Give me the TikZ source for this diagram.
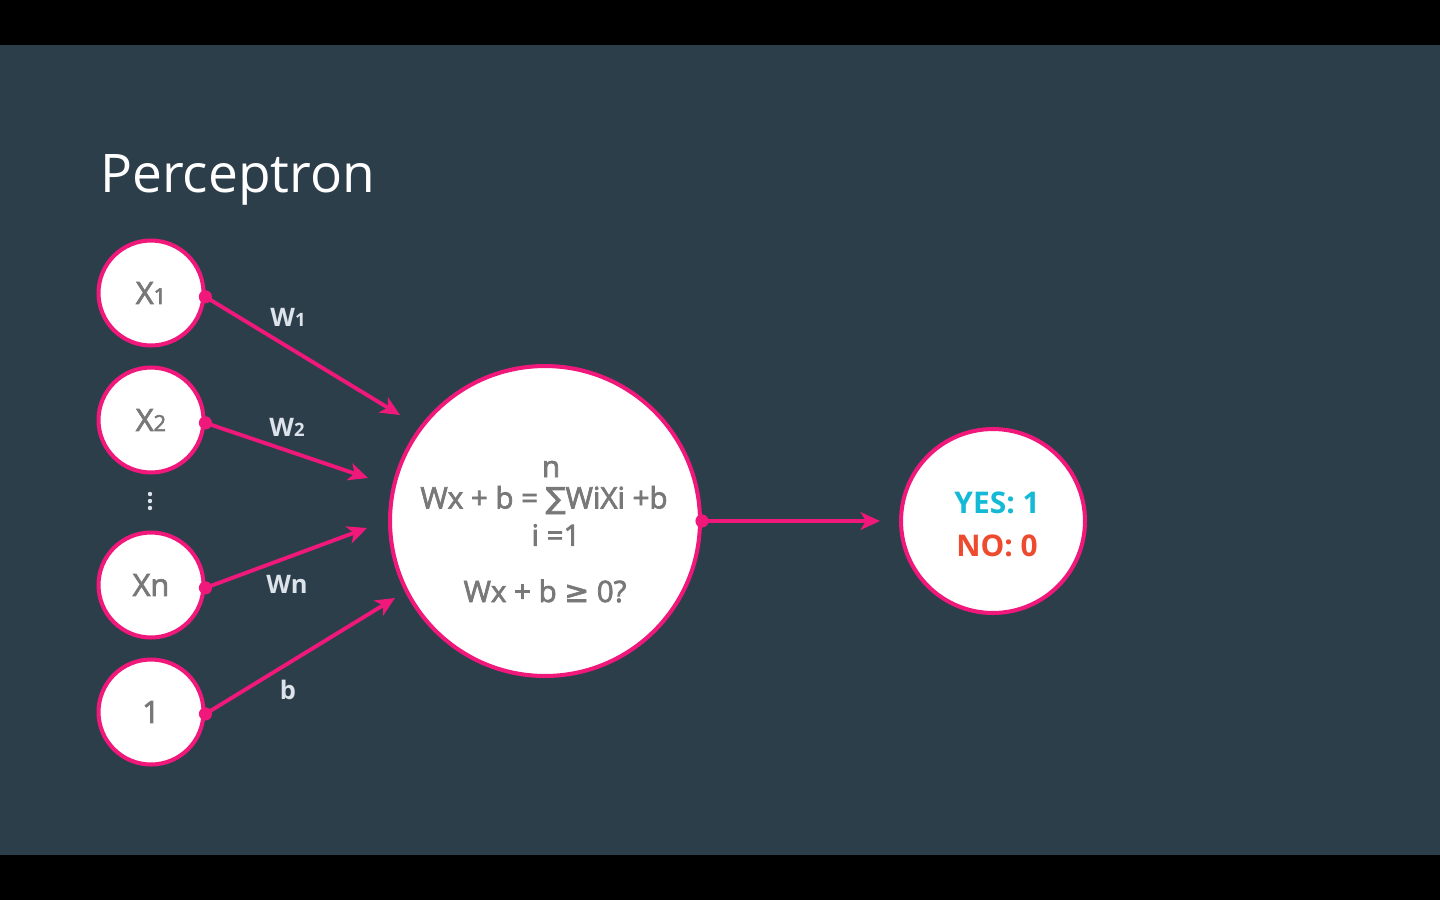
\documentclass[tikz,border=0pt]{standalone}
\usepackage{fontspec}
\setmainfont{Open Sans}
\newfontfamily\semib[FakeBold=2.5]{Open Sans}
\newfontfamily\symfont[FakeBold=2.5]{DejaVu Sans}
\usetikzlibrary{arrows.meta}
\definecolor{bg}{HTML}{2D3E4B}
\definecolor{pinkc}{HTML}{F0187A}
\definecolor{greyc}{HTML}{787878}
\definecolor{lblc}{HTML}{DDE3EA}
\definecolor{yesc}{HTML}{14B9D6}
\definecolor{noc}{HTML}{EE4A2E}
\newcommand\lowsub[1]{{\fontsize{12.5}{14}\selectfont #1}}
\newcommand\lowsubw[1]{{\fontsize{10.5}{12}\selectfont #1}}
\begin{document}
\begin{tikzpicture}[x=0.02cm,y=-0.02cm,
  neuron/.style={circle,draw=pinkc,fill=white,line width=2.3pt,inner sep=0pt},
  smallneuron/.style={neuron,minimum size=2.1cm,font=\semib\fontsize{17.5}{20}\selectfont,text=greyc},
  conn/.style={draw=pinkc,line width=2.2pt,-{Stealth[length=11pt,width=10pt,inset=3pt]}},
  dotc/.style={circle,fill=pinkc,inner sep=0pt,minimum size=7.5pt},
  wlabel/.style={font=\bfseries\fontsize{14.5}{17}\selectfont,text=lblc,inner sep=0pt},
  bigtext/.style={font=\semib\fontsize{16.8}{19}\selectfont,text=greyc,inner sep=0pt}]
\fill[black] (0,0) rectangle (1440,900);
\fill[bg] (0,45) rectangle (1440,855);
\useasboundingbox (0,0) rectangle (1440,900);

\node[anchor=base west,text=white,font=\fontsize{30.3}{36}\selectfont,inner sep=0pt] (title) at (100,192) {Perceptron};

\node[smallneuron] (x1) at (151,293) {X\lowsub{1}};
\node[smallneuron] (x2) at (151,420) {X\lowsub{2}};
\node[smallneuron] (xn) at (151,585) {Xn};
\node[smallneuron] (one) at (151,712) {1};

\fill[lblc] (150,494) circle (2.2) (150,501) circle (2.2) (150,508) circle (2.2);

\node[neuron,minimum size=6.2cm] (sum) at (545,521) {};
\node[bigtext] (formula) at (544,500) {Wx + b = {\symfont ∑}WiXi +b};
\node[bigtext] (upper) at (551,469) {n};
\node[bigtext] (lower) at (556,535) {i =1};
\node[bigtext] (test) at (545,591) {Wx + b {\symfont ≥} 0?};

\node[neuron,minimum size=3.68cm] (out) at (993,521) {};
\node[font=\bfseries\fontsize{17}{20}\selectfont,text=yesc,inner sep=0pt] (yes) at (997,503) {YES: 1};
\node[font=\bfseries\fontsize{17}{20}\selectfont,text=noc,inner sep=0pt] (no) at (997,546) {NO: 0};

\coordinate (t1) at (400,415);
\coordinate (t2) at (368,478);
\coordinate (tn) at (367,528);
\coordinate (tb) at (395,598);
\coordinate (tout) at (880,521);

\draw[conn] (x1.-4) -- (t1);
\draw[conn] (x2.-3) -- (t2);
\draw[conn] (xn.-3) -- (tn);
\draw[conn] (one.-2) -- (tb);
\draw[conn] (sum.east) -- (tout);

\node[dotc] (d1) at (x1.-4) {};
\node[dotc] (d2) at (x2.-3) {};
\node[dotc] (dn) at (xn.-3) {};
\node[dotc] (db) at (one.-2) {};
\node[dotc] (ds) at (sum.east) {};

\node[wlabel] (w1) at (288,317) {W\lowsubw{1}};
\node[wlabel] (w2) at (287,427) {W\lowsubw{2}};
\node[wlabel] (wn) at (287,584) {Wn};
\node[wlabel] (wb) at (288,690) {b};
\end{tikzpicture}
\end{document}
